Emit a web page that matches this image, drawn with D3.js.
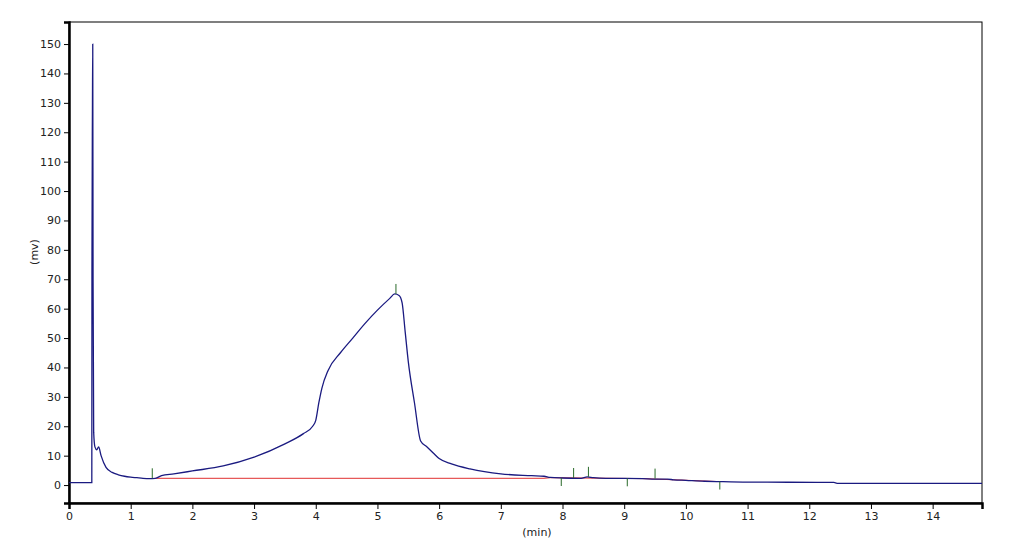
<!DOCTYPE html>
<html><head><meta charset="utf-8">
<script src="https://cdn.jsdelivr.net/npm/d3@7"></script>
<style>body{margin:0;background:#fff}text{font-family:"DejaVu Sans",sans-serif;font-size:11px;fill:#222}</style>
</head><body><svg id="c" width="1012" height="560"></svg>
<script>
var times = [0,0.37,0.372,0.38,0.385,0.39,0.40,0.42,0.45,0.48,0.52,0.6,0.7,0.8,0.9,1.0,1.1,1.2,1.3,1.4,1.5,1.7,2.0,2.5,3.0,3.5,3.8,3.95,4.0,4.05,4.1,4.2,4.4,4.6,4.8,5.0,5.2,5.28,5.35,5.4,5.45,5.5,5.6,5.7,5.8,5.9,6.0,6.2,6.5,7.0,7.5,7.7,7.8,8.0,8.3,8.4,8.5,8.7,9.0,9.3,9.5,9.7,9.8,10.0,10.3,10.5,11.0,12.4,12.45,14.8];
var signal = [0.8,0.8,73,128,150,70,18,13,12,13,10,6,4.3,3.5,3,2.7,2.5,2.3,2.2,2.3,3.2,3.8,4.8,6.5,9.5,14,17.5,20,22,28,33,39,45,50,55,59.5,63.5,65,64.5,62,52,42,28,15,13,11,9,7.2,5.5,3.8,3.2,3,2.6,2.4,2.3,2.8,2.5,2.3,2.3,2.2,2.0,2.0,1.8,1.6,1.3,1.2,1.0,0.9,0.6,0.6];
var baseT = [1.4,7.7,7.8,9.3,9.8,10.5];
var baseV = [2.3,2.3,2.5,2.2,1.8,1.2];
var markT = [1.35,5.3,7.98,8.18,8.42,9.05,9.5,10.55];
var markV = [2.3,65,2.4,2.4,2.8,2.3,2.2,1.2];
var markUp = [1,1,0,1,1,0,1,0];
var xTicks = d3.range(0,15);
var yTicks = d3.range(0,160,10);

var svg = d3.select("#c");
var L=69,R=982,T=22,B=503;
var x = d3.scaleLinear().domain([0,14.8]).range([L,R]);
var y = d3.scaleLinear().domain([-6.1,157.5]).range([B,T]);

svg.append("rect").attr("x",L).attr("y",T).attr("width",R-L).attr("height",B-T).attr("fill","none").attr("stroke","#000").attr("stroke-width",1);

var ax = svg.append("g").attr("transform","translate(0,"+B+")");
ax.call(d3.axisBottom(x).tickValues(d3.range(0,14.81,0.2)).tickSize(4).tickFormat(""));
ax.call(d3.axisBottom(x).tickValues(xTicks).tickSize(6).tickFormat(d3.format("d")));
var ay = svg.append("g").attr("transform","translate("+L+",0)");
ay.call(d3.axisLeft(y).tickValues(d3.range(-6,157,2)).tickSize(3).tickFormat(""));
ay.call(d3.axisLeft(y).tickValues(yTicks).tickSize(5).tickFormat(d3.format("d")));
svg.selectAll(".domain").attr("stroke-width",2.5);

var line = d3.line().x(function(d){return x(d[0]);}).y(function(d){return y(d[1]);});
svg.append("path").datum(baseT.map(function(t,i){return [t,baseV[i]];}))
  .attr("d",line).attr("fill","none").attr("stroke","#e03030").attr("stroke-width",1);
svg.append("path").datum(times.map(function(t,i){return [t,signal[i]];}))
  .attr("d",line.curve(d3.curveMonotoneX)).attr("fill","none").attr("stroke","#1a1a80").attr("stroke-width",1.3);

svg.selectAll(".mk").data(markT).enter().append("line")
  .attr("x1",function(d){return x(d);}).attr("x2",function(d){return x(d);})
  .attr("y1",function(d,i){return y(markV[i]);})
  .attr("y2",function(d,i){return markUp[i]?y(markV[i])-10:y(markV[i])+8;})
  .attr("stroke","#2a6a2a").attr("stroke-width",1);

svg.append("text").attr("x",537).attr("y",536).attr("text-anchor","middle").text("(min)");
svg.append("text").attr("transform","translate(38,252) rotate(-90)").attr("text-anchor","middle").text("(mv)");
</script></body></html>
